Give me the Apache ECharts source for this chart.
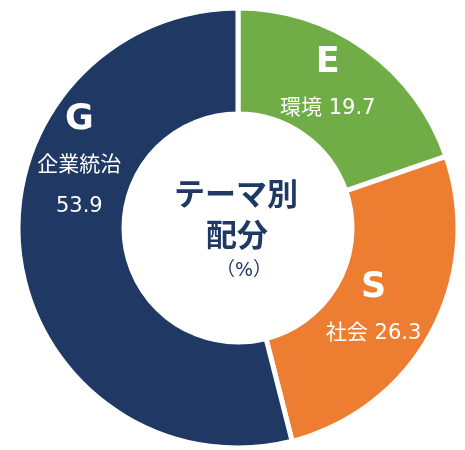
<!DOCTYPE html>
<html>
<head>
<meta charset="utf-8">
<script src="https://cdn.jsdelivr.net/npm/echarts@6/dist/echarts.min.js"></script>
<style>
  html, body { margin: 0; padding: 0; background: #fff; }
  #pie-chart { width: 465px; height: 450px; }
</style>
</head>
<body>
<div id="pie-chart"></div>
<script>
var codes = ['E', 'S', 'G'];
var names = ['環境', '社会', '企業統治'];
var values = [19.7, 26.3, 53.9];
var colors = ['#70AD47', '#ED7D31', '#1F3864'];
var labelOffsets = [[-9, -6], [-14, 0], [10, -88]];

var myChart = echarts.init(document.getElementById('pie-chart'));

var data = values.map(function (v, i) {
    return {
        name: names[i],
        value: v,
        code: codes[i],
        itemStyle: { color: colors[i] },
        label: { offset: labelOffsets[i] }
    };
});

var option = {
    animation: false,
    graphic: [{
        type: 'text',
        left: 238 - 64,
        top: 178,
        style: {
            text: 'テーマ別',
            font: 'bold 31px "Noto Sans CJK JP"',
            fill: '#1F3864'
        }
    }, {
        type: 'text',
        left: 238 - 32,
        top: 219,
        style: {
            text: '配分',
            font: 'bold 31px "Noto Sans CJK JP"',
            fill: '#1F3864'
        }
    }, {
        type: 'text',
        left: 238 - 22,
        top: 262,
        style: {
            text: '（%）',
            font: '19px "DejaVu Sans", "Noto Sans CJK JP"',
            fill: '#1F3864'
        }
    }],
    series: [{
        type: 'pie',
        center: [238, 228],
        radius: [114, 220],
        startAngle: 90,
        clockwise: true,
        itemStyle: { borderColor: '#fff', borderWidth: 5 },
        label: {
            position: 'inside',
            color: '#fff',
            formatter: function (p) {
                var sep = p.name.length > 2 ? '\n' : ' ';
                return '{big|' + p.data.code + '}\n{sm|' + p.name + sep + p.value + '}';
            },
            rich: {
                big: { fontSize: 35, fontWeight: 'bold', color: '#fff', lineHeight: 50, fontFamily: '"DejaVu Sans"' },
                sm: { fontSize: 21, color: '#fff', lineHeight: 41, fontFamily: '"DejaVu Sans", "Noto Sans CJK JP"' }
            }
        },
        labelLine: { show: false },
        data: data
    }]
};

myChart.setOption(option);
</script>
</body>
</html>
